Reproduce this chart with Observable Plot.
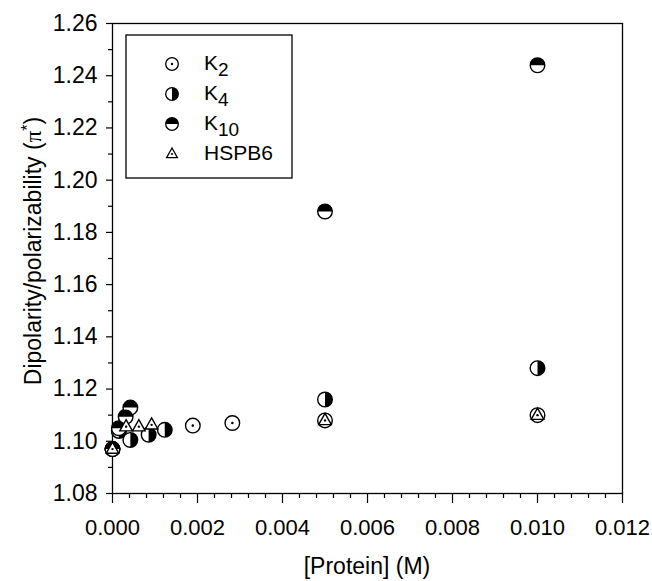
<!DOCTYPE html>
<html>
<head>
<meta charset="utf-8">
<script src="https://cdn.jsdelivr.net/npm/d3@7"></script>
<script src="https://cdn.jsdelivr.net/npm/@observablehq/plot@0.6"></script>
<style>
  html, body { margin: 0; padding: 0; background: white; }
  #chart { width: 652px; height: 581px; }
</style>
</head>
<body>
<div id="chart"></div>
<script>
// ---- data ----
const k2X = [0, 0.00015, 0.00189, 0.00282, 0.005, 0.010];
const k2Y = [1.097, 1.104, 1.106, 1.107, 1.108, 1.110];

const k4X = [0, 0.00015, 0.00042, 0.00085, 0.00123, 0.005, 0.010];
const k4Y = [1.097, 1.104, 1.1005, 1.1025, 1.1044, 1.116, 1.128];

const k10X = [0, 0.00015, 0.00031, 0.00042, 0.005, 0.010];
const k10Y = [1.097, 1.105, 1.1094, 1.1129, 1.188, 1.244];

const hspX = [0, 0.00032, 0.00062, 0.00092, 0.005, 0.010];
const hspY = [1.097, 1.1056, 1.1056, 1.1063, 1.108, 1.110];

const xMajor = [0, 0.002, 0.004, 0.006, 0.008, 0.010, 0.012];
const xMinor = [0.0004, 0.0008, 0.0012, 0.0016, 0.0024, 0.0028, 0.0032, 0.0036,
                0.0044, 0.0048, 0.0052, 0.0056, 0.0064, 0.0068, 0.0072, 0.0076,
                0.0084, 0.0088, 0.0092, 0.0096, 0.0104, 0.0108, 0.0112, 0.0116];
const yMajor = [1.08, 1.10, 1.12, 1.14, 1.16, 1.18, 1.20, 1.22, 1.24, 1.26];
const yMinor = [1.09, 1.11, 1.13, 1.15, 1.17, 1.19, 1.21, 1.23, 1.25];

const seriesNames = ["K", "K", "K", "HSPB6"];
const seriesSubs = ["2", "4", "10", ""];

const toRows = (xs, ys) => xs.map((x, i) => ({x, y: ys[i]}));
const k2 = toRows(k2X, k2Y), k4 = toRows(k4X, k4Y), k10 = toRows(k10X, k10Y), hsp = toRows(hspX, hspY);

// ---- custom symbols ----
const rOf = size => Math.sqrt(size / Math.PI);
const halfRight = { draw(ctx, size) { const r = rOf(size); ctx.moveTo(0, -r); ctx.arc(0, 0, r, -Math.PI / 2, Math.PI / 2); ctx.closePath(); } };
const halfTop = { draw(ctx, size) { const r = rOf(size); ctx.moveTo(-r, 0); ctx.arc(0, 0, r, Math.PI, 2 * Math.PI); ctx.closePath(); } };
const tri = { draw(ctx, size) { const r = rOf(size); ctx.moveTo(0, -r); ctx.lineTo(r * 0.9, r * 0.6); ctx.lineTo(-r * 0.9, r * 0.6); ctx.closePath(); } };

const R = 7.3, SW = 1.4;
const openCircle = (d) => Plot.dot(d, {x: "x", y: "y", r: R, fill: "white", stroke: "black", strokeWidth: SW});
const marks = [
  Plot.frame({stroke: "black", strokeWidth: 1.3}),
  Plot.axisX({ticks: xMajor, tickSize: 10, tickPadding: 16, tickFormat: d => d.toFixed(3), label: null, fontSize: 22, strokeWidth: 1.2}),
  Plot.axisX({ticks: xMinor, tickSize: 5, tickFormat: () => "", label: null, strokeWidth: 1.2}),
  Plot.axisY({ticks: yMajor, tickSize: 6, tickPadding: 9, tickFormat: d => d.toFixed(2), label: null, fontSize: 23, strokeWidth: 1.2}),
  Plot.axisY({ticks: yMinor, tickSize: 4, tickFormat: () => "", label: null, strokeWidth: 1.2}),
  // K2
  openCircle(k2),
  Plot.dot(k2, {x: "x", y: "y", r: 1.3, fill: "black"}),
  // K4
  openCircle(k4),
  Plot.dot(k4, {x: "x", y: "y", r: R, symbol: halfRight, fill: "black"}),
  // K10
  openCircle(k10),
  Plot.dot(k10, {x: "x", y: "y", r: R, symbol: halfTop, fill: "black"}),
  // HSPB6
  Plot.dot(hsp, {x: "x", y: "y", r: 7, symbol: tri, fill: "white", stroke: "black", strokeWidth: SW}),
  Plot.dot(hsp, {x: "x", y: "y", r: 1.2, fill: "black"})
];

const chart = Plot.plot({
  width: 652, height: 581,
  marginLeft: 112, marginRight: 30, marginTop: 23, marginBottom: 88,
  x: {domain: [0, 0.012]},
  y: {domain: [1.08, 1.26]},
  style: {fontFamily: "'Liberation Sans', Arial, sans-serif", fontSize: "22px", color: "black", background: "white"},
  marks
});
document.getElementById("chart").appendChild(chart);

// ---- titles & legend (added to the SVG) ----
const svg = d3.select(chart);
const font = "'Liberation Sans', Arial, sans-serif";
svg.append("text").attr("x", 367).attr("y", 574).attr("text-anchor", "middle")
  .attr("font-family", font).attr("font-size", 23).attr("fill", "black").text("[Protein] (M)");
const yt = svg.append("text").attr("transform", "translate(41,251) rotate(-90)").attr("text-anchor", "middle")
  .attr("font-family", font).attr("font-size", 23).attr("fill", "black");
yt.append("tspan").text("Dipolarity/polarizability (");
yt.append("tspan").attr("font-family", "'Liberation Serif', 'DejaVu Serif', serif").text("π");
yt.append("tspan").attr("font-size", 16).attr("dy", -8).text("*");
yt.append("tspan").attr("dy", 8).text(")");

const lg = svg.append("g");
lg.append("rect").attr("x", 126).attr("y", 35).attr("width", 166).attr("height", 143)
  .attr("fill", "white").attr("stroke", "black").attr("stroke-width", 1.3);
const rowsY = [64, 94, 124, 154];
const lr = 6.3;
const sym = (type, r) => d3.symbol().type(type).size(Math.PI * r * r)();
rowsY.forEach((ry, i) => {
  const g = lg.append("g").attr("transform", `translate(172,${ry})`);
  if (i < 3) {
    g.append("circle").attr("r", lr).attr("fill", "white").attr("stroke", "black").attr("stroke-width", 1.3);
    if (i === 0) g.append("circle").attr("r", 1.2).attr("fill", "black");
    if (i === 1) g.append("path").attr("d", sym(halfRight, lr)).attr("fill", "black");
    if (i === 2) g.append("path").attr("d", sym(halfTop, lr)).attr("fill", "black");
  } else {
    g.append("path").attr("d", sym(tri, 6)).attr("fill", "white").attr("stroke", "black").attr("stroke-width", 1.3);
    g.append("circle").attr("r", 1.1).attr("fill", "black");
  }
  const t = lg.append("text").attr("x", 204).attr("y", ry + 6).attr("text-anchor", "start").attr("font-family", font)
    .attr("font-size", 21).attr("fill", "black").text(seriesNames[i]);
  if (seriesSubs[i]) t.append("tspan").attr("dy", 6).attr("font-size", 19).text(seriesSubs[i]);
});
</script>
</body>
</html>
